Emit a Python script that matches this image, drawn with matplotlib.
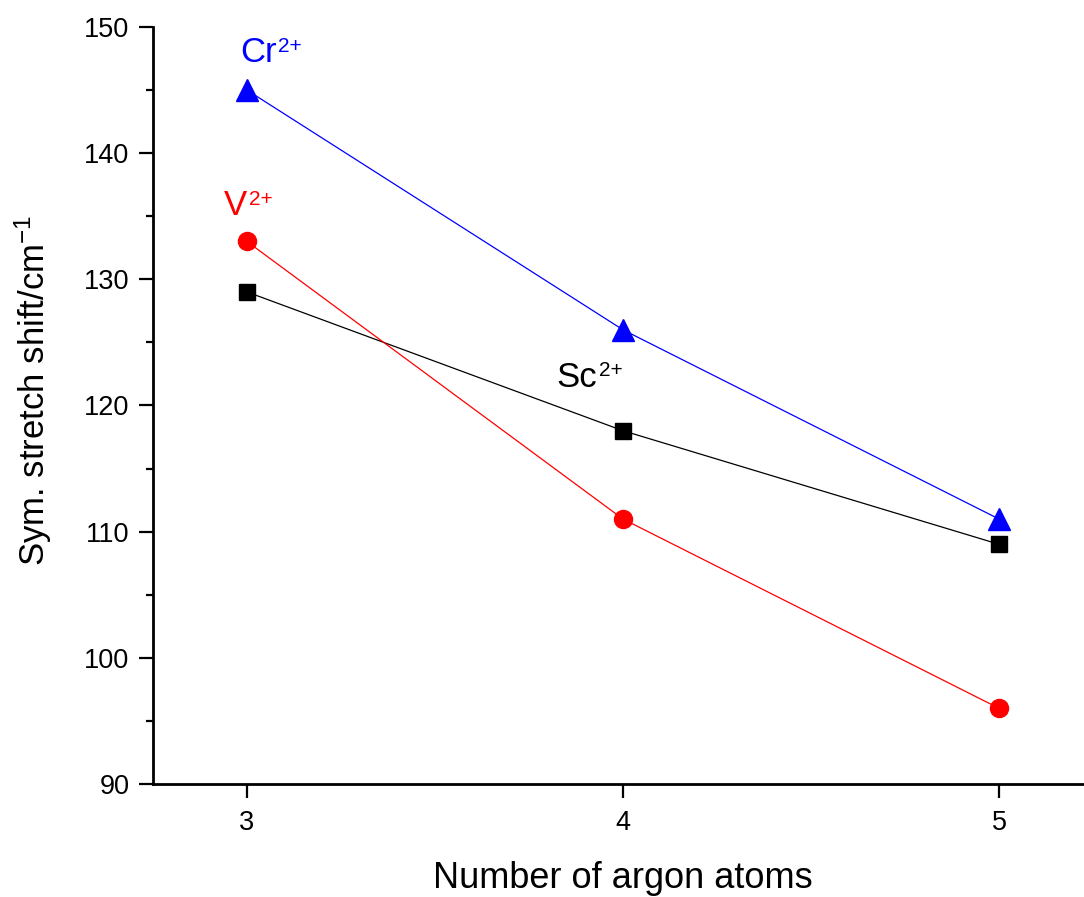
import matplotlib
matplotlib.use("Agg")
import matplotlib.pyplot as plt
from matplotlib.ticker import MultipleLocator
from matplotlib.transforms import offset_copy

plt.rcParams['font.family'] = ['Liberation Sans', 'DejaVu Sans']
plt.rcParams['mathtext.fontset'] = 'custom'
plt.rcParams['mathtext.rm'] = 'Liberation Sans'
plt.rcParams['mathtext.it'] = 'Liberation Sans'

argon_atoms = [3, 4, 5]
sc_shift = [129, 118, 109]
v_shift = [133, 111, 96]
cr_shift = [145, 126, 111]

fig = plt.figure(figsize=(10.84, 8.97), dpi=100)
ax = fig.add_axes([0.1411, 0.1260, 0.8672, 0.8439])

ax.plot(argon_atoms, sc_shift, color='black', lw=0.9, marker='s', ms=11.5)
ax.plot(argon_atoms, v_shift, color='red', lw=0.9, marker='o', ms=13)
ax.plot(argon_atoms, cr_shift, color='blue', lw=0.9, marker='^', ms=15.5)

ax.set_xlim(2.75, 5.25)
ax.set_ylim(90, 150)
ax.set_xticks(argon_atoms)
ax.yaxis.set_major_locator(MultipleLocator(10))
ax.yaxis.set_minor_locator(MultipleLocator(5))

for side in ('top', 'right'):
    ax.spines[side].set_visible(False)
for side in ('left', 'bottom'):
    ax.spines[side].set_linewidth(2)

ax.tick_params(axis='both', which='major', direction='out', length=10, width=1.6,
               labelsize=19.5)
ax.tick_params(axis='y', which='major', pad=7)
ax.tick_params(axis='x', which='major', pad=9)
ax.tick_params(axis='y', which='minor', direction='out', length=5, width=1.6)

ax.set_xlabel('Number of argon atoms', fontsize=26, labelpad=18)
ax.set_ylabel(r'Sym. stretch shift/cm$^{\mathrm{-1}}$', fontsize=25)
ax.yaxis.set_label_coords(-0.1056, 0.52)


def ion_label(x, y, symbol, charge, color):
    """Element symbol followed by a raised charge, e.g. Cr2+."""
    main = ax.text(x, y, symbol, color=color, fontsize=25, va='baseline', ha='left')
    fig.canvas.draw()
    bb = main.get_window_extent()
    _, y_disp = ax.transData.transform((x, y))
    sup_x, _ = ax.transData.inverted().transform((bb.x1 + 2, y_disp))
    trans = offset_copy(ax.transData, fig=fig, x=0, y=7.5, units='points')
    ax.text(sup_x, y, charge, color=color, fontsize=15, va='baseline', ha='left',
            transform=trans)


ion_label(2.981, 147.2, 'Cr', '2+', 'blue')
ion_label(2.939, 135.1, 'V', '2+', 'red')
ion_label(3.822, 121.5, 'Sc', '2+', 'black')

fig.savefig('out.png', dpi=100)
